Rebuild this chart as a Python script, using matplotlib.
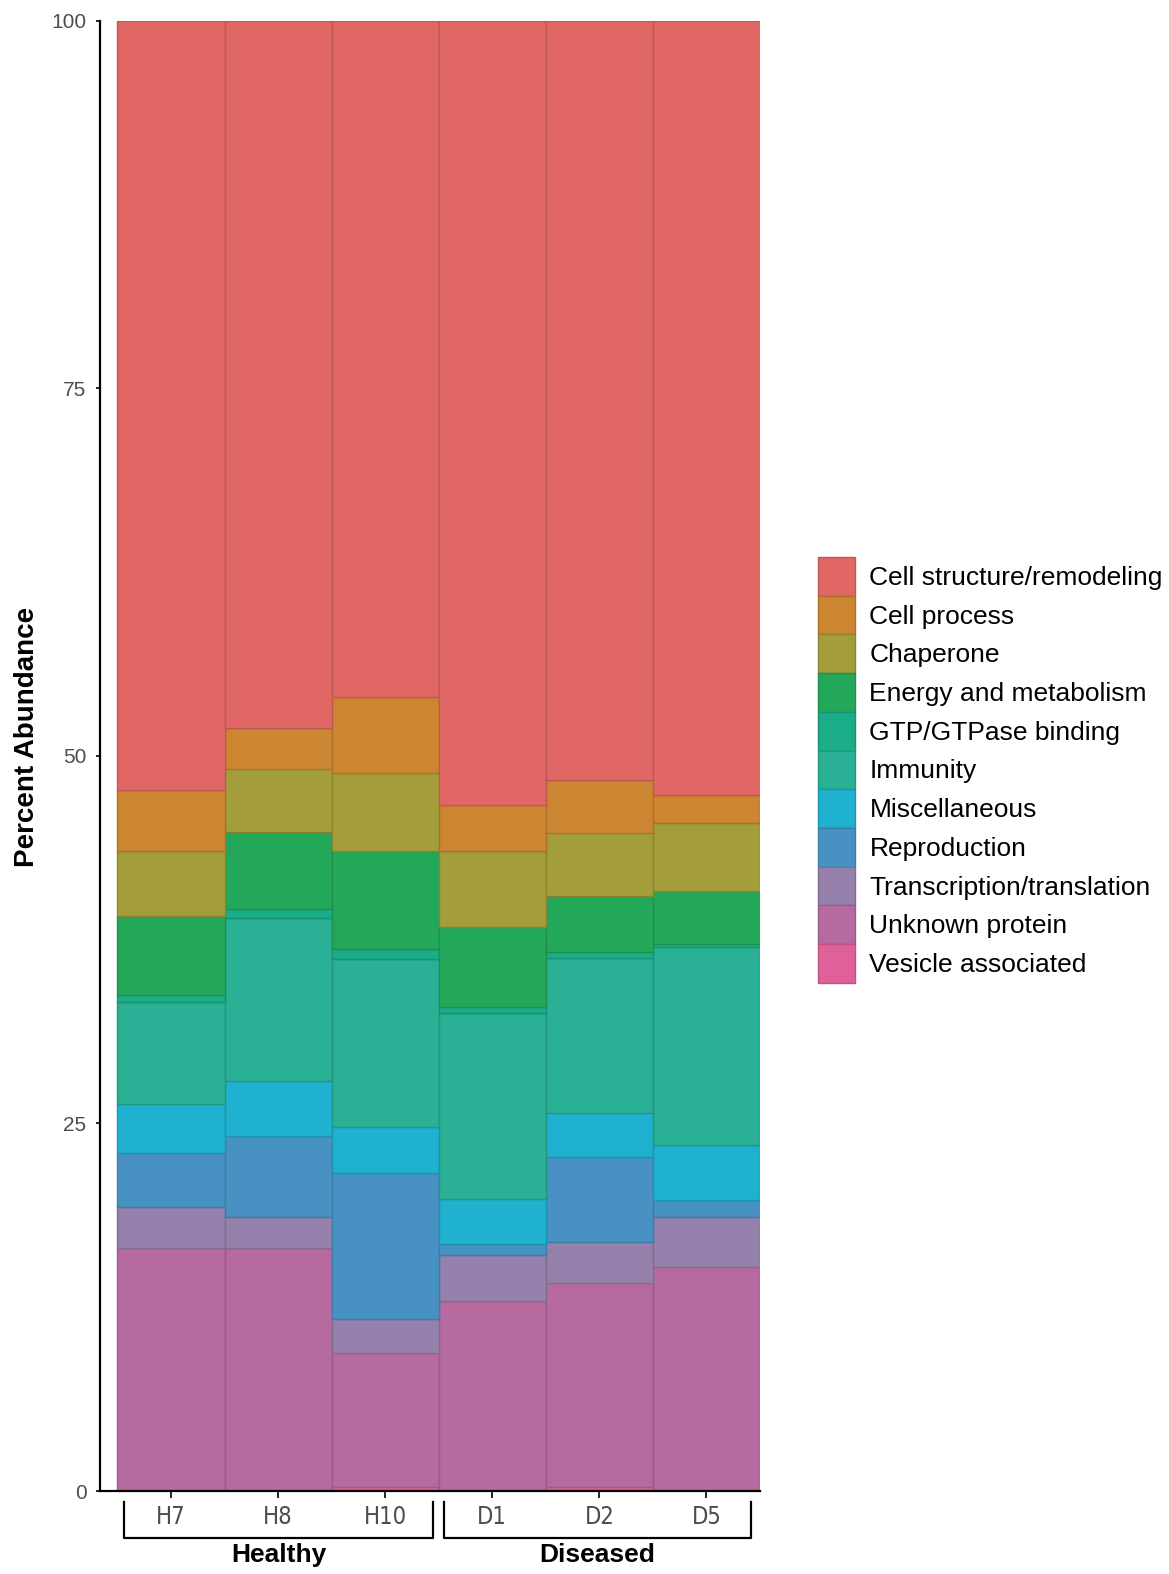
import numpy as np
import matplotlib.pyplot as plt
from matplotlib import font_manager as fm
from matplotlib.patches import Patch
from matplotlib.colors import to_rgb

plt.rcParams['font.family'] = ['Liberation Sans', 'DejaVu Sans']

# samples and their groups
samples = ['H7', 'H8', 'H10', 'D1', 'D2', 'D5']
groups = ['Healthy', 'Diseased']

categories = ['Cell structure/remodeling', 'Cell process', 'Chaperone',
              'Energy and metabolism', 'GTP/GTPase binding', 'Immunity',
              'Miscellaneous', 'Reproduction', 'Transcription/translation',
              'Unknown protein', 'Vesicle associated']

# percent abundance per sample
cell_structure = [52.31, 48.12, 45.97, 53.33, 51.63, 52.65]
cell_process = [4.15, 2.78, 5.17, 3.13, 3.59, 1.93]
chaperone = [4.42, 4.25, 5.30, 5.15, 4.30, 4.58]
energy = [5.38, 5.28, 6.71, 5.49, 3.79, 3.66]
gtp_binding = [0.47, 0.61, 0.68, 0.36, 0.41, 0.15]
immunity = [6.94, 11.07, 11.39, 12.70, 10.55, 13.49]
misc = [3.36, 3.72, 3.13, 3.04, 3.03, 3.74]
reproduction = [3.67, 5.51, 9.97, 0.75, 5.74, 1.18]
transcription = [2.79, 2.15, 2.31, 3.12, 2.83, 3.36]
unknown = [16.51, 16.51, 9.07, 12.93, 13.83, 15.26]
vesicle = [0.0, 0.0, 0.3, 0.0, 0.3, 0.0]

series = [cell_structure, cell_process, chaperone, energy, gtp_binding, immunity,
          misc, reproduction, transcription, unknown, vesicle]

colors = ['#E16764', '#CC8531', '#A39D3B', '#23A85A', '#1BAD87', '#29B095',
          '#1FB1CF', '#4792C3', '#9680AC', '#B76A9F', '#E0619A']


def darker(c, f=0.85):
    r, g, b = to_rgb(c)
    return (r * f, g * f, b * f)


def narrow_font():
    # pick a condensed face for the sample labels if one is installed
    try:
        fm.findfont(fm.FontProperties(family='Liberation Sans Narrow'),
                    fallback_to_default=False)
        return dict(family='Liberation Sans Narrow', fontsize=19)
    except ValueError:
        pass
    path = fm.findfont(fm.FontProperties(family='DejaVu Sans', stretch='condensed'))
    if 'Condensed' in path:
        return dict(family='DejaVu Sans', stretch='condensed', fontsize=17)
    return dict(family='Liberation Sans', fontsize=16)


fig = plt.figure(figsize=(11.69, 15.74), dpi=100)
ax = fig.add_axes([0.0858, 0.0527, 0.5643, 0.9341])

x = np.arange(1, len(samples) + 1)
bottom = np.zeros(len(samples))
# stack from the bottom category up
for vals, col in zip(series[::-1], colors[::-1]):
    vals = np.array(vals)
    ax.bar(x, vals, width=1.0, bottom=bottom, color=col,
           edgecolor=darker(col), linewidth=1.0)
    bottom += vals

ax.set_xlim(0.34, 6.5)
ax.set_ylim(0, 100)
ax.set_yticks([0, 25, 50, 75, 100])
ax.spines['top'].set_visible(False)
ax.spines['right'].set_visible(False)
ax.spines['left'].set_linewidth(1.6)
ax.spines['bottom'].set_linewidth(1.6)
ax.tick_params(axis='y', length=3, width=1.2, pad=7, labelsize=15, labelcolor='#4D4D4D')
ax.tick_params(axis='x', length=5, width=1.2, pad=5, labelcolor='#4D4D4D')
ax.set_xticks(x)
ax.set_xticklabels(samples, **narrow_font())

fig.text(27 / 1169, 1 - 737 / 1574, 'Percent Abundance', rotation=90,
         fontsize=20, fontweight='bold', ha='center', va='center')

# group brackets under the sample labels
tr = ax.get_xaxis_transform()
spans = [(0.565, 3.451), (3.545, 6.42)]
for name, (x0, x1) in zip(groups, spans):
    ax.plot([x0, x0, x1, x1], [-0.0075, -0.032, -0.032, -0.0075], color='black',
            lw=1.6, transform=tr, clip_on=False)
    ax.text((x0 + x1) / 2, -0.0435, name, transform=tr, ha='center', va='center',
            fontsize=19, fontweight='bold')

handles = [Patch(facecolor=c, edgecolor=darker(c), linewidth=1.0) for c in colors]
ax.legend(handles, categories, loc='upper left',
          bbox_to_anchor=(818 / 1169, 1 - 557 / 1574), bbox_transform=fig.transFigure,
          frameon=False, fontsize=19, handlelength=1.4, handleheight=1.88,
          labelspacing=0, handletextpad=0.55, borderpad=0, borderaxespad=0)

plt.savefig('out.png', dpi=100)
